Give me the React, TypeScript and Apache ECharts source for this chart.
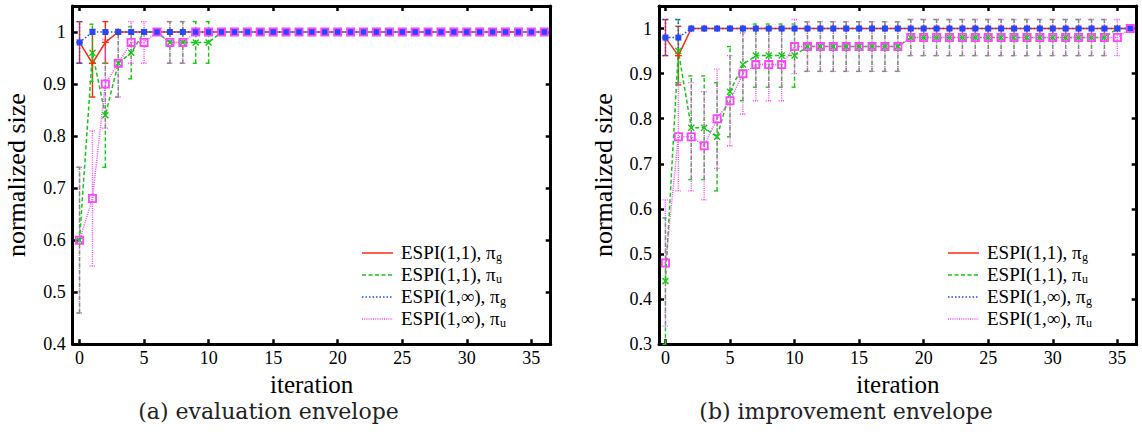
import React, { useEffect, useRef } from "react";
import * as echarts from "echarts";

// ---------- data ----------
const iterations = [0, 1, 2, 3, 4, 5, 6, 7, 8, 9, 10, 11, 12, 13, 14, 15, 16, 17, 18, 19, 20, 21, 22, 23, 24, 25, 26, 27, 28, 29, 30, 31, 32, 33, 34, 35, 36];
const xTickValues = [0, 5, 10, 15, 20, 25, 30, 35];
const evalYTicks = [0.4, 0.5, 0.6, 0.7, 0.8, 0.9, 1];
const impYTicks = [0.3, 0.4, 0.5, 0.6, 0.7, 0.8, 0.9, 1];

const seriesNames = ["ESPI(1,1), π", "ESPI(1,1), π", "ESPI(1,∞), π", "ESPI(1,∞), π"];
const seriesSubs = ["g", "u", "g", "u"];

// (a) evaluation envelope
const evalRedMean = [0.98, 0.94, 0.98, 1, 1, 1, 1, 1, 1, 1, 1, 1, 1, 1, 1, 1, 1, 1, 1, 1, 1, 1, 1, 1, 1, 1, 1, 1, 1, 1, 1, 1, 1, 1, 1, 1, 1];
const evalRedErr = [0.04, 0.065, 0.04, 0, 0, 0, 0, 0, 0, 0, 0, 0, 0, 0, 0, 0, 0, 0, 0, 0, 0, 0, 0, 0, 0, 0, 0, 0, 0, 0, 0, 0, 0, 0, 0, 0, 0];
const evalGreenMean = [0.6, 0.96, 0.84, 0.94, 0.96, 1, 1, 0.98, 0.98, 0.98, 0.98, 1, 1, 1, 1, 1, 1, 1, 1, 1, 1, 1, 1, 1, 1, 1, 1, 1, 1, 1, 1, 1, 1, 1, 1, 1, 1];
const evalGreenErr = [0.14, 0.055, 0.1, 0.065, 0.05, 0, 0, 0.04, 0.04, 0.04, 0.04, 0, 0, 0, 0, 0, 0, 0, 0, 0, 0, 0, 0, 0, 0, 0, 0, 0, 0, 0, 0, 0, 0, 0, 0, 0, 0];
const evalBlueMean = [0.98, 1, 1, 1, 1, 1, 1, 1, 1, 1, 1, 1, 1, 1, 1, 1, 1, 1, 1, 1, 1, 1, 1, 1, 1, 1, 1, 1, 1, 1, 1, 1, 1, 1, 1, 1, 1];
const evalBlueErr = [0.04, 0, 0, 0, 0, 0, 0, 0, 0, 0, 0, 0, 0, 0, 0, 0, 0, 0, 0, 0, 0, 0, 0, 0, 0, 0, 0, 0, 0, 0, 0, 0, 0, 0, 0, 0, 0];
const evalMagentaMean = [0.6, 0.68, 0.9, 0.94, 0.98, 0.98, 1, 0.98, 0.98, 1, 1, 1, 1, 1, 1, 1, 1, 1, 1, 1, 1, 1, 1, 1, 1, 1, 1, 1, 1, 1, 1, 1, 1, 1, 1, 1, 1];
const evalMagentaErr = [0.14, 0.13, 0.085, 0.065, 0.04, 0.04, 0, 0.04, 0.04, 0, 0, 0, 0, 0, 0, 0, 0, 0, 0, 0, 0, 0, 0, 0, 0, 0, 0, 0, 0, 0, 0, 0, 0, 0, 0, 0, 0];

// (b) improvement envelope
const impRedMean = [0.98, 0.94, 1, 1, 1, 1, 1, 1, 1, 1, 1, 1, 1, 1, 1, 1, 1, 1, 1, 1, 1, 1, 1, 1, 1, 1, 1, 1, 1, 1, 1, 1, 1, 1, 1, 1, 1];
const impRedErr = [0.04, 0.065, 0, 0, 0, 0, 0, 0, 0, 0, 0, 0, 0, 0, 0, 0, 0, 0, 0, 0, 0, 0, 0, 0, 0, 0, 0, 0, 0, 0, 0, 0, 0, 0, 0, 0, 0];
const impGreenMean = [0.44, 0.95, 0.78, 0.78, 0.76, 0.86, 0.92, 0.94, 0.94, 0.94, 0.94, 0.96, 0.96, 0.96, 0.96, 0.96, 0.96, 0.96, 0.96, 0.98, 0.98, 0.98, 0.98, 0.98, 0.98, 0.98, 0.98, 0.98, 0.98, 0.98, 0.98, 0.98, 0.98, 0.98, 0.98, 1, 1];
const impGreenErr = [0.14, 0.07, 0.115, 0.115, 0.12, 0.1, 0.08, 0.07, 0.07, 0.07, 0.07, 0.055, 0.055, 0.055, 0.055, 0.055, 0.055, 0.055, 0.055, 0.04, 0.04, 0.04, 0.04, 0.04, 0.04, 0.04, 0.04, 0.04, 0.04, 0.04, 0.04, 0.04, 0.04, 0.04, 0.04, 0, 0];
const impBlueMean = [0.98, 0.98, 1, 1, 1, 1, 1, 1, 1, 1, 1, 1, 1, 1, 1, 1, 1, 1, 1, 1, 1, 1, 1, 1, 1, 1, 1, 1, 1, 1, 1, 1, 1, 1, 1, 1, 1];
const impBlueErr = [0.04, 0.04, 0, 0, 0, 0, 0, 0, 0, 0, 0, 0, 0, 0, 0, 0, 0, 0, 0, 0, 0, 0, 0, 0, 0, 0, 0, 0, 0, 0, 0, 0, 0, 0, 0, 0, 0];
const impMagentaMean = [0.48, 0.76, 0.76, 0.74, 0.8, 0.84, 0.9, 0.92, 0.92, 0.92, 0.96, 0.96, 0.96, 0.96, 0.96, 0.96, 0.96, 0.96, 0.96, 0.98, 0.98, 0.98, 0.98, 0.98, 0.98, 0.98, 0.98, 0.98, 0.98, 0.98, 0.98, 0.98, 0.98, 0.98, 0.98, 0.98, 1];
const impMagentaErr = [0.14, 0.12, 0.12, 0.12, 0.11, 0.1, 0.09, 0.08, 0.08, 0.08, 0.06, 0.055, 0.055, 0.055, 0.055, 0.055, 0.055, 0.055, 0.055, 0.04, 0.04, 0.04, 0.04, 0.04, 0.04, 0.04, 0.04, 0.04, 0.04, 0.04, 0.04, 0.04, 0.04, 0.04, 0.04, 0.04, 0];

// ---------- styling ----------
const FONT = "Liberation Serif";
const CAPTION_FONT = "DejaVu Serif";
const COLORS = ["#ff2a14", "#14c814", "#2448ff", "#ff44ff"];
const DASHES: any[] = ["solid", [4, 2.5], [1.5, 2], [1, 1.2]];
const ERR_DASH: any[] = [null, [4, 2.5], [1.5, 2], [1, 1.2]];
const SYMBOLS = [
  "path://M4,0H6V4H10V6H6V10H4V6H0V4H4Z",
  "path://M0,1.4L1.4,0L5,3.6L8.6,0L10,1.4L6.4,5L10,8.6L8.6,10L5,6.4L1.4,10L0,8.6L3.6,5Z",
  "rect",
  "path://M0,0L10,0L10,10L0,10Z M2,2L2,8L8,8L8,2Z",
];
const SYMBOL_SIZES = [7, 7, 6, 9];

function errSeries(mean: number[], err: number[], k: number, ai: number) {
  const data: number[][] = [];
  iterations.forEach((x, i) => {
    if (err[i] > 0) data.push([x, mean[i] - err[i], mean[i] + err[i]]);
  });
  const color = COLORS[k];
  const dash = ERR_DASH[k];
  return {
    type: "custom",
    xAxisIndex: ai * 2,
    yAxisIndex: ai * 2,
    silent: true,
    data,
    encode: { x: 0, y: [1, 2] },
    renderItem: (params: any, api: any) => {
      const x = api.value(0);
      const lo = api.coord([x, api.value(1)]);
      const hi = api.coord([x, api.value(2)]);
      const w = 3;
      const style: any = { stroke: color, lineWidth: 1.4, fill: null };
      if (dash) style.lineDash = dash;
      return {
        type: "group",
        children: [
          { type: "line", shape: { x1: lo[0], y1: lo[1], x2: hi[0], y2: hi[1] }, style },
          { type: "line", shape: { x1: lo[0] - w, y1: lo[1], x2: lo[0] + w, y2: lo[1] }, style },
          { type: "line", shape: { x1: hi[0] - w, y1: hi[1], x2: hi[0] + w, y2: hi[1] }, style },
        ],
      };
    },
  };
}

function lineSeries(mean: number[], k: number, ai: number) {
  return {
    type: "line",
    name: seriesNames[k] + seriesSubs[k],
    xAxisIndex: ai * 2,
    yAxisIndex: ai * 2,
    data: iterations.map((x, i) => [x, mean[i]]),
    symbol: SYMBOLS[k],
    symbolSize: SYMBOL_SIZES[k],
    showSymbol: true,
    silent: true,
    lineStyle: { color: COLORS[k], width: 1.5, type: DASHES[k] },
    itemStyle: { color: COLORS[k] },
  };
}

function xAxes(gi: number, min: number, max: number) {
  const common: any = {
    type: "value",
    gridIndex: gi,
    min,
    max,
    splitLine: { show: false },
    axisLine: { show: true, onZero: false, lineStyle: { color: "#000", width: 3 } },
    axisTick: { show: true, inside: true, length: 5, lineStyle: { color: "#000", width: 2.5 }, customValues: xTickValues },
  };
  return [
    {
      ...common,
      position: "bottom",
      axisLabel: { show: true, customValues: xTickValues, color: "#000", fontFamily: FONT, fontSize: 18, margin: 5 },
      name: "iteration",
      nameLocation: "middle",
      nameGap: 28,
      nameTextStyle: { color: "#000", fontFamily: FONT, fontSize: 25 },
    },
    { ...common, position: "top", axisLabel: { show: false } },
  ];
}

function yAxes(gi: number, min: number, max: number, ticks: number[]) {
  const common: any = {
    type: "value",
    gridIndex: gi,
    min,
    max,
    splitLine: { show: false },
    axisLine: { show: true, onZero: false, lineStyle: { color: "#000", width: 3 } },
    axisTick: { show: true, inside: true, length: 5, lineStyle: { color: "#000", width: 2.5 }, customValues: ticks },
  };
  return [
    {
      ...common,
      position: "left",
      axisLabel: {
        show: true,
        customValues: ticks,
        color: "#000",
        fontFamily: FONT,
        fontSize: 18,
        margin: 7,
        formatter: (v: number) => (Math.abs(v - 1) < 1e-9 ? "1" : v.toFixed(1)),
      },
      name: "normalized size",
      nameLocation: "middle",
      nameRotate: 90,
      nameGap: 43,
      nameTextStyle: { color: "#000", fontFamily: FONT, fontSize: 26 },
    },
    { ...common, position: "right", axisLabel: { show: false } },
  ];
}

function measure(text: string, size: number) {
  const c = document.createElement("canvas").getContext("2d");
  if (!c) return text.length * size * 0.5;
  c.font = `${size}px "Liberation Serif"`;
  return c.measureText(text).width;
}

function legendGraphics(lineX1: number, lineX2: number, textX: number, rows: number[]) {
  const els: any[] = [];
  rows.forEach((y, k) => {
    const style: any = { stroke: COLORS[k], lineWidth: 1.5 };
    if (ERR_DASH[k]) style.lineDash = ERR_DASH[k];
    els.push({ type: "line", shape: { x1: lineX1, y1: y, x2: lineX2, y2: y }, style, silent: true });
    els.push({
      type: "text",
      x: textX,
      y: y - 1,
      silent: true,
      style: { text: seriesNames[k], fontFamily: FONT, fontSize: 19, fill: "#000", align: "left", verticalAlign: "middle" },
    });
    const w = measure(seriesNames[k], 19);
    els.push({
      type: "text",
      x: textX + w + 0.5,
      y: y + 3.5,
      silent: true,
      style: { text: seriesSubs[k], fontFamily: FONT, fontSize: 12, fill: "#000", align: "left", verticalAlign: "middle" },
    });
  });
  return els;
}

export default function App() {
  const ref = useRef<HTMLDivElement>(null);
  useEffect(() => {
    if (!ref.current) return;
    const chart = echarts.init(ref.current, undefined, { renderer: "svg" });
    const evalSets = [
      [evalRedMean, evalRedErr],
      [evalGreenMean, evalGreenErr],
      [evalBlueMean, evalBlueErr],
      [evalMagentaMean, evalMagentaErr],
    ];
    const impSets = [
      [impRedMean, impRedErr],
      [impGreenMean, impGreenErr],
      [impBlueMean, impBlueErr],
      [impMagentaMean, impMagentaErr],
    ];
    const series: any[] = [];
    evalSets.forEach(([m, e], k) => {
      series.push(errSeries(m, e, k, 0));
      series.push(lineSeries(m, k, 0));
    });
    impSets.forEach(([m, e], k) => {
      series.push(errSeries(m, e, k, 1));
      series.push(lineSeries(m, k, 1));
    });
    chart.setOption({
      animation: false,
      backgroundColor: "#fff",
      grid: [
        { left: 72.7, top: 6, width: 478, height: 338.2 },
        { left: 659, top: 6, width: 477.7, height: 338.2 },
      ],
      xAxis: [...xAxes(0, -0.53, 36.5), ...xAxes(1, -0.5, 36.5)],
      yAxis: [...yAxes(0, 0.4, 1.05, evalYTicks), ...yAxes(1, 0.3, 1.05, impYTicks)],
      series,
      graphic: [
        ...legendGraphics(362, 393, 401, [253, 275, 297, 319]),
        ...legendGraphics(948, 979, 987, [253, 275, 297, 319]),
        {
          type: "text",
          x: 268.5,
          y: 411,
          silent: true,
          style: { text: "(a) evaluation envelope", fontFamily: CAPTION_FONT, fontSize: 22, fill: "#222", align: "center", verticalAlign: "middle" },
        },
        {
          type: "text",
          x: 846,
          y: 411,
          silent: true,
          style: { text: "(b) improvement envelope", fontFamily: CAPTION_FONT, fontSize: 22, fill: "#222", align: "center", verticalAlign: "middle" },
        },
      ],
    });
    return () => chart.dispose();
  }, []);
  return <div ref={ref} style={{ position: "absolute", left: 0, top: 0, width: 1142, height: 439 }} />;
}
